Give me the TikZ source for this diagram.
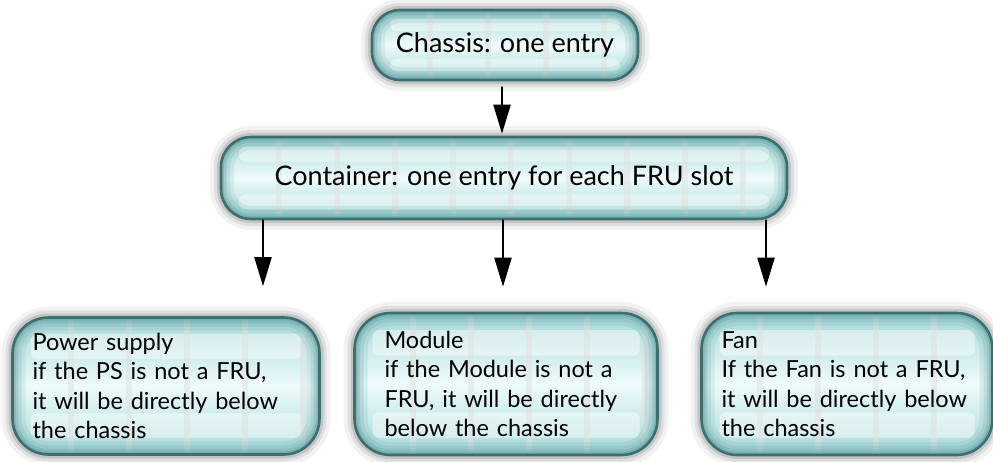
\documentclass[tikz,border=0pt]{standalone}
\usepackage{fontspec}
\setsansfont{Lato}
\usepackage{tikz}
\usetikzlibrary{arrows.meta,calc}
\definecolor{boxedge}{HTML}{3C6F70}
\definecolor{boxrim}{HTML}{5E9C9D}
\definecolor{boxmid}{HTML}{A6D8D8}
\definecolor{boxlight}{HTML}{EEFBFB}
\tikzset{
  every picture/.style={line join=round, line cap=round, >=Stealth},
  bigtext/.style={font=\sffamily\fontsize{27}{32}\selectfont},
  leaftext/.style={font=\sffamily\fontsize{23.5}{29.5}\selectfont, align=left},
  glassbox/.style={rounded corners=#1, draw=boxedge, line width=2.6pt,
    top color=boxmid, bottom color=boxmid, middle color=boxlight,
    preaction={draw=black, opacity=0.05, line width=22pt},
    preaction={draw=black, opacity=0.08, line width=14pt},
    preaction={draw=black, opacity=0.12, line width=8pt},
    path picture={
      % glossy bands near top and bottom
      \foreach \a/\b in {0.12/0.30,0.70/0.88}
        \fill[white, opacity=0.45, rounded corners=6pt]
          ($(path picture bounding box.north west)!\a!(path picture bounding box.south west)+(18pt,0)$) rectangle
          ($(path picture bounding box.north east)!\b!(path picture bounding box.south east)+(-18pt,0)$);
      \foreach \i in {1,...,10}
        \draw[black!12, line width=6pt, opacity=0.5]
          ([xshift=\i*58pt]path picture bounding box.south west) --
          ([xshift=\i*58pt]path picture bounding box.north west);
      \foreach \w/\o in {26/0.14,18/0.18,11/0.26,6/0.4}
        \draw[boxrim, line width=\w pt, opacity=\o, rounded corners=#1]
          (path picture bounding box.south west) rectangle
          (path picture bounding box.north east);
    }},
  arr/.style={line width=2.2pt, arrows={-Triangle[length=29pt,width=17pt]}},
}

\begin{document}
\begin{tikzpicture}[x=1pt,y=-1pt]
\useasboundingbox (0,0) rectangle (993,461);
% top of the tree
\node[glassbox=28pt, bigtext, minimum width=266pt, minimum height=70pt] (chassis) at (505,45) {Chassis: one entry};
\node[glassbox=30pt, bigtext, minimum width=566pt, minimum height=82pt] (cont) at (504,178) {Container: one entry for each FRU slot};
% leaves
\node[glassbox=36pt, leaftext, minimum width=307pt, minimum height=137pt, text width=267pt, inner xsep=20pt] (ps) at (166,386)
  {Power supply\\if the PS is not a FRU,\\it will be directly below\\the chassis};
\node[glassbox=36pt, leaftext, minimum width=303pt, minimum height=142pt, text width=243pt, inner xsep=30pt] (module) at (506,384)
  {Module\\if the Module is not a\\FRU, it will be directly\\below the chassis};
\node[glassbox=36pt, leaftext, minimum width=291pt, minimum height=142pt, text width=251pt, inner xsep=20pt] (fan) at (847,384)
  {Fan\\If the Fan is not a FRU,\\it will be directly below\\the chassis};
% arrows
\draw[arr, shorten <=6pt, shorten >=2pt] ([xshift=-2pt]cont.north |- chassis.south) -- ([xshift=-2pt]cont.north);
\draw[arr, shorten >=30pt] ([xshift=-241pt]cont.south) -- ([xshift=-241pt]cont.south |- ps.north);
\draw[arr, shorten >=25pt] ([xshift=-1pt]cont.south) -- ([xshift=-1pt]cont.south |- module.north);
\draw[arr, shorten >=25pt] ([xshift=262pt]cont.south) -- ([xshift=262pt]cont.south |- fan.north);
\end{tikzpicture}
\end{document}
